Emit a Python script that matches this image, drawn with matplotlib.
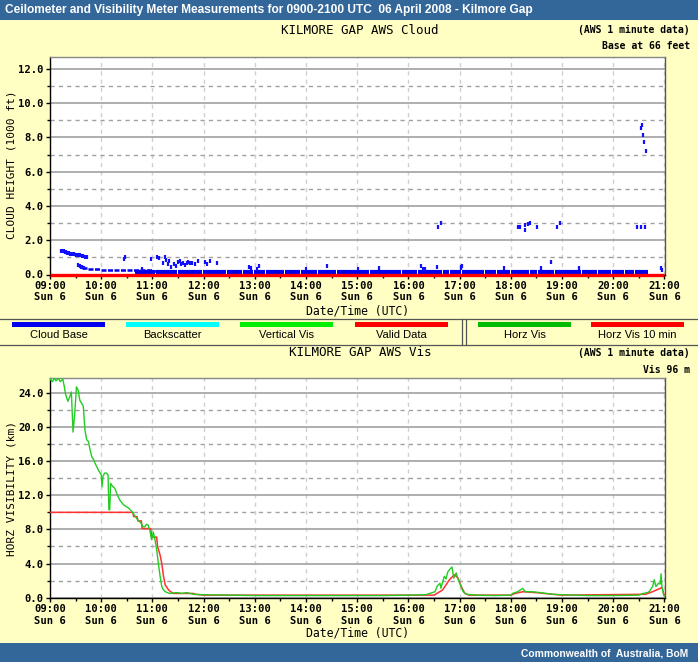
import matplotlib
matplotlib.use('Agg')
import matplotlib.pyplot as plt
from matplotlib.ticker import MultipleLocator, FixedLocator
from matplotlib.patches import Rectangle
from matplotlib.lines import Line2D

W, H = 698, 662

# ---------------- data ----------------
hour_ticks = ['09:00', '10:00', '11:00', '12:00', '13:00', '14:00', '15:00',
              '16:00', '17:00', '18:00', '19:00', '20:00', '21:00']
day_label = 'Sun 6'

# scattered cloud-base hits (time, height in 1000 ft)
cloud_hit_times = ['09:13', '09:14', '09:15', '09:16', '09:17', '09:18', '09:19', '09:20',
                   '09:21', '09:22', '09:24', '09:25', '09:27', '09:28', '09:30', '09:31',
                   '09:33', '09:35', '09:37', '09:39', '09:41', '09:43',
                   '09:33', '09:35', '09:36', '09:38', '09:40',
                   '10:27', '10:28', '10:48', '10:58', '11:05', '11:08', '11:12', '11:15',
                   '11:16', '11:18', '11:20', '11:22', '11:25', '11:28', '11:30', '11:32',
                   '11:34', '11:36', '11:38', '11:40', '11:42', '11:44', '11:46', '11:50',
                   '11:53', '12:02', '12:04', '12:07', '12:16', '12:53', '12:56', '13:05',
                   '13:02', '14:00', '14:25', '15:01', '15:25', '16:15', '16:17', '16:19',
                   '16:34', '16:35', '16:38', '17:01', '17:02', '17:03', '17:52', '18:35',
                   '18:47', '19:20',
                   '18:08', '18:11', '18:17', '18:17', '18:20', '18:23', '18:31', '18:54',
                   '18:57', '20:28', '20:33', '20:37',
                   '20:33', '20:34', '20:35', '20:36', '20:38', '20:56', '20:57']
cloud_hit_kft = [1.35, 1.36, 1.35, 1.37, 1.33, 1.30, 1.30, 1.28,
                 1.25, 1.25, 1.22, 1.20, 1.20, 1.18, 1.15, 1.15,
                 1.15, 1.12, 1.10, 1.10, 1.05, 1.05,
                 0.55, 0.50, 0.45, 0.45, 0.40,
                 0.90, 1.00, 0.30, 0.90, 1.00, 0.95, 0.70, 1.00,
                 0.85, 0.60, 0.80, 0.45, 0.60, 0.50, 0.75, 0.80,
                 0.60, 0.70, 0.55, 0.70, 0.75, 0.65, 0.70, 0.60,
                 0.80, 0.75, 0.60, 0.80, 0.70, 0.45, 0.40, 0.50,
                 0.35, 0.30, 0.50, 0.30, 0.40, 0.50, 0.35, 0.30,
                 0.45, 2.80, 3.00, 0.45, 0.40, 0.50, 0.40, 0.40,
                 0.75, 0.40,
                 2.80, 2.80, 2.60, 2.90, 2.95, 3.00, 2.80, 2.80,
                 3.00, 2.80, 2.80, 2.80,
                 8.56, 8.71, 8.17, 7.74, 7.23, 0.40, 0.25]

# low layer dashes before the surface band (start, end, height)
low_layer_start = ['09:37', '09:45', '10:00', '10:30', '11:00']
low_layer_end = ['09:45', '10:00', '10:30', '11:00', '11:22']
low_layer_kft = [0.40, 0.32, 0.27, 0.24, 0.20]

# near-surface band ("Base at 66 feet")
band_start = '10:40'
band_end = '20:41'
band_kft = 0.12
band_gaps = ['11:03', '11:29', '11:58', '12:27', '12:45', '12:58', '13:12', '13:35',
             '13:53', '14:13', '14:36', '15:14', '15:30', '15:52', '16:10', '16:40',
             '16:48', '17:02', '17:29', '17:43', '17:59', '18:22', '18:31', '18:51',
             '19:23', '19:41', '19:58', '20:13', '20:25']

# horizontal visibility (km), 1 minute
vis_times = ['09:00', '09:03', '09:05', '09:07', '09:10', '09:12', '09:15', '09:17', '09:18',
             '09:21', '09:23', '09:25', '09:27', '09:29', '09:31', '09:33', '09:35', '09:37',
             '09:39', '09:41', '09:43', '09:45', '09:47', '09:49', '09:51', '09:53', '09:55',
             '09:57', '10:00', '10:01', '10:02', '10:04', '10:06', '10:08', '10:09', '10:10',
             '10:11', '10:13', '10:16', '10:19', '10:22', '10:26', '10:29', '10:32', '10:36',
             '10:40', '10:43', '10:47', '10:49', '10:51', '10:53', '10:55', '10:57', '10:59',
             '11:01', '11:03', '11:05', '11:07', '11:09', '11:11', '11:13', '11:15', '11:20',
             '11:28', '11:35', '11:40', '11:48', '12:00', '12:30', '13:00', '13:30', '14:00',
             '14:30', '15:00', '15:30', '16:00', '16:20', '16:25', '16:31', '16:34', '16:37',
             '16:38', '16:40', '16:42', '16:44', '16:46', '16:49', '16:51', '16:53', '16:56',
             '16:58', '17:00', '17:04', '17:08', '17:20', '17:40', '18:00', '18:02', '18:05',
             '18:08', '18:11', '18:14', '18:16', '18:18', '18:25', '18:34', '18:49', '18:59',
             '19:30', '20:00', '20:30', '20:35', '20:40', '20:42', '20:44', '20:46', '20:48',
             '20:50', '20:53', '20:55', '20:56', '20:57', '20:59', '21:00']
vis_km = [25.6, 25.3, 25.7, 25.4, 25.7, 25.3, 25.6, 24.6, 23.9,
          23.0, 23.5, 24.1, 19.4, 21.6, 24.7, 24.3, 23.1, 22.8,
          22.4, 19.6, 18.5, 18.3, 17.3, 16.5, 16.2, 15.7, 15.3,
          14.9, 14.4, 13.0, 14.2, 14.6, 14.6, 14.4, 10.3, 10.3,
          13.4, 13.1, 12.8, 12.0, 11.4, 10.9, 10.7, 10.5, 10.1,
          9.5, 9.1, 8.7, 8.3, 8.3, 8.6, 8.5, 7.9, 6.8,
          7.7, 6.8, 5.6, 4.0, 2.5, 1.3, 0.9, 0.7, 0.5,
          0.6, 0.5, 0.6, 0.4, 0.35, 0.3, 0.25, 0.25, 0.25,
          0.25, 0.25, 0.25, 0.3, 0.35, 0.5, 0.7, 1.4, 1.7,
          1.1, 1.8, 2.5, 2.2, 3.0, 3.4, 3.6, 2.3, 2.9,
          2.2, 1.7, 0.7, 0.4, 0.3, 0.25, 0.3, 0.5, 0.6,
          0.7, 0.9, 1.1, 0.8, 0.7, 0.7, 0.6, 0.4, 0.35,
          0.25, 0.25, 0.3, 0.5, 0.6, 0.7, 1.0, 1.3, 2.1,
          1.3, 1.7, 1.6, 2.8, 1.3, 0.3, 0.2]

# horizontal visibility, 10 minute
vis10_times = ['09:00', '10:37', '10:38', '10:42', '10:43', '10:47', '10:48', '10:58', '10:59',
               '11:05', '11:06', '11:09', '11:11', '11:13', '11:15', '11:19', '11:24', '11:48',
               '11:50', '12:00', '16:30', '16:40', '16:48', '16:54', '16:58', '17:02', '17:06',
               '17:11', '18:00', '18:05', '18:14', '18:29', '18:49', '19:00', '20:38', '20:46',
               '20:55', '20:57', '21:00']
vis10_km = [10.0, 10.0, 9.5, 9.5, 9.0, 9.0, 8.1, 8.1, 7.1,
            7.1, 6.0, 5.0, 4.0, 2.5, 1.5, 0.9, 0.5, 0.5,
            0.4, 0.3, 0.3, 0.9, 2.1, 2.7, 2.3, 1.3, 0.5,
            0.3, 0.3, 0.5, 0.7, 0.6, 0.4, 0.3, 0.4, 0.7,
            1.1, 1.2, 0.2]

legend_names = ['Cloud Base', 'Backscatter', 'Vertical Vis', 'Valid Data', 'Horz Vis', 'Horz Vis 10 min']
legend_colors = ['#0000EE', '#00FFFF', '#00EE00', '#FF0000', '#00BB00', '#FF0000']

# ---------------- helpers ----------------
def hrs(s):
    h, m = s.split(':')
    return int(h) + int(m) / 60.0

def rect(l, t, r, b):
    return [l / W, 1 - b / H, (r - l) / W, (b - t) / H]

def ftext(x, y, s, **kw):
    fig.text(x / W, 1 - y / H, s, **kw)

BG = '#FFFFC4'
BAR = '#336699'
MONO = 'DejaVu Sans Mono'
SANS = 'Liberation Sans'

fig = plt.figure(figsize=(W / 100, H / 100), dpi=100, facecolor=BG)

# header / footer bars
fig.add_artist(Rectangle((0, 1 - 20 / H), 1, 20 / H, transform=fig.transFigure,
                         facecolor=BAR, edgecolor='none'))
fig.add_artist(Rectangle((0, 0), 1, 19 / H, transform=fig.transFigure,
                         facecolor=BAR, edgecolor='none'))
ftext(5, 10, 'Ceilometer and Visibility Meter Measurements for 0900-2100 UTC  06 April 2008 - Kilmore Gap',
      color='white', fontsize=8.6, fontweight='bold', family=SANS, va='center', ha='left')
ftext(688, 653, 'Commonwealth of  Australia, BoM', color='white', fontsize=7.4,
      fontweight='bold', family=SANS, va='center', ha='right')

xt = [hrs(t) for t in hour_ticks]
xlabels = [t + '\n' + day_label for t in hour_ticks]


def style_axis(ax, ymax, ymajor):
    ax.set_facecolor('white')
    ax.set_xlim(hrs('09:00'), hrs('21:00') + 0.01)
    ax.set_ylim(0, ymax)
    ax.xaxis.set_major_locator(FixedLocator(xt))
    ax.xaxis.set_minor_locator(MultipleLocator(0.5))
    ax.set_xticklabels(xlabels, fontsize=7.6, fontweight='bold', family=MONO, linespacing=1.2)
    ax.yaxis.set_major_locator(MultipleLocator(ymajor))
    ax.yaxis.set_minor_locator(MultipleLocator(ymajor / 2))
    ax.yaxis.set_major_formatter(matplotlib.ticker.FormatStrFormatter('%.1f'))
    for lab in ax.get_yticklabels():
        lab.set_fontsize(7.6)
        lab.set_fontweight('bold')
        lab.set_family(MONO)
    ax.tick_params(axis='both', which='major', length=3, width=1, pad=1.5, color='black')
    ax.tick_params(axis='both', which='minor', length=2, width=1, color='black')
    ax.grid(True, axis='y', which='major', color='#A8A8A8', lw=1.3, ls='-')
    ax.grid(True, axis='y', which='minor', color='#A0A0A0', lw=1.0, ls=(0, (3, 3)))
    ax.grid(True, axis='x', which='major', color='#D0D0D0', lw=1.0, ls=(0, (3, 3)))
    ax.set_axisbelow(True)
    for sp in ax.spines.values():
        sp.set_color('black')
        sp.set_linewidth(1.0)
    ax.spines['top'].set_color('#888888')
    ax.spines['right'].set_color('#555555')


# ---------------- cloud panel ----------------
ftext(360, 30, 'KILMORE GAP AWS Cloud', fontsize=9, family=MONO, ha='center', va='center')
ftext(690, 30, '(AWS 1 minute data)', fontsize=7, fontweight='bold', family=MONO, ha='right', va='center')
ftext(690, 46, 'Base at 66 feet', fontsize=7, fontweight='bold', family=MONO, ha='right', va='center')

ax1 = fig.add_axes(rect(50, 57, 665, 274.5))
style_axis(ax1, 12.7, 2.0)
ax1.set_ylabel('')
ftext(12, 165, 'CLOUD HEIGHT (1000 ft)', fontsize=8, family=MONO, rotation=90, ha='center', va='center')
ftext(358, 311, 'Date/Time (UTC)', fontsize=8.3, family=MONO, ha='center', va='center')

# band with gaps
bs, be = hrs(band_start), hrs(band_end)
gaps = sorted(hrs(g) for g in band_gaps)
seg_s = [bs] + [g + 0.012 for g in gaps]
seg_e = [g - 0.006 for g in gaps] + [be]
ax1.hlines([band_kft] * len(seg_s), seg_s, seg_e, colors='#0000EE', lw=3.0, zorder=3)
ax1.hlines(low_layer_kft, [hrs(t) for t in low_layer_start], [hrs(t) for t in low_layer_end],
           colors='#0000EE', lw=1.8, linestyles=(0, (2, 0.6)), zorder=3)
ax1.plot([hrs(t) for t in cloud_hit_times], cloud_hit_kft, ls='none', marker='|',
         ms=3.2, mew=1.6, color='#1010FF', zorder=4)
ax1.hlines([0.0], hrs('09:00'), hrs('21:00'), colors='#FF0000', lw=2.4, zorder=5, clip_on=False)

# ---------------- legend strip ----------------
fig.add_artist(Line2D([0, 1], [1 - 319.5 / H] * 2, transform=fig.transFigure, color='#555555', lw=0.9))
fig.add_artist(Line2D([0, 1], [1 - 344.5 / H] * 2, transform=fig.transFigure, color='#555555', lw=0.9))
for xv in (462.5, 465.5):
    fig.add_artist(Line2D([xv / W] * 2, [1 - 344.5 / H, 1 - 319.5 / H], transform=fig.transFigure,
                          color='#555555', lw=0.9))
legend_x = [12, 126, 240, 355, 478, 591]
for name, col, x0 in zip(legend_names, legend_colors, legend_x):
    fig.add_artist(Rectangle((x0 / W, 1 - 327 / H), 93 / W, 5.5 / H, transform=fig.transFigure,
                             facecolor=col, edgecolor='none'))
    ftext(x0 + 46.5, 335.5, name, fontsize=8, family=SANS, ha='center', va='center')

# ---------------- visibility panel ----------------
ftext(360, 353, 'KILMORE GAP AWS Vis', fontsize=9, family=MONO, ha='center', va='center')
ftext(690, 353, '(AWS 1 minute data)', fontsize=7, fontweight='bold', family=MONO, ha='right', va='center')
ftext(690, 370, 'Vis 96 m', fontsize=7, fontweight='bold', family=MONO, ha='right', va='center')

ax2 = fig.add_axes(rect(50, 378.3, 665, 597.7))
style_axis(ax2, 25.7, 4.0)
ftext(12, 488, 'HORZ VISIBILITY (km)', fontsize=8, family=MONO, rotation=90, ha='center', va='center')
ftext(358, 633, 'Date/Time (UTC)', fontsize=8.3, family=MONO, ha='center', va='center')

ax2.plot([hrs(t) for t in vis10_times], vis10_km, color='#FF3030', lw=1.1, zorder=3)
ax2.plot([hrs(t) for t in vis_times], vis_km, color='#22CC22', lw=1.0, zorder=4)

fig.savefig('out.png', dpi=100, facecolor=BG)
